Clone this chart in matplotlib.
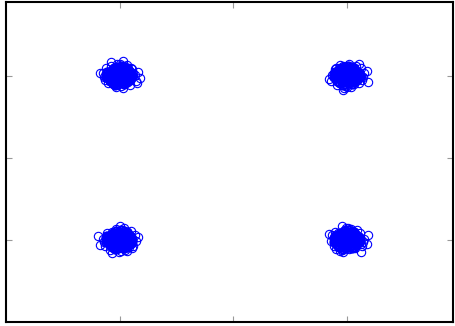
import matplotlib
matplotlib.use("Agg")
import matplotlib.pyplot as plt

# QPSK constellation: symbol centres and hand-read scatter offsets (hundredths)
centers_x = [-1, 1, -1, 1]
centers_y = [1, 1, -1, -1]

# dense core shared by every symbol cloud
off_core = [(-6,-9),(-2,-10),(2,-9),(6,-8),
            (-9,-6),(-5,-7),(-1,-6),(3,-6),(7,-5),
            (-10,-3),(-7,-3),(-3,-2),(1,-3),(5,-3),(9,-2),
            (-11,0),(-8,1),(-4,0),(0,0),(4,1),(8,0),(11,1),
            (-10,3),(-6,4),(-2,3),(2,4),(6,3),(10,4),
            (-8,6),(-4,7),(0,6),(4,7),(8,6),
            (-5,9),(-1,10),(3,9),(6,10),
            (-4,-11),(0,-8),(4,-10),
            (-7,-8),(-3,-5),(1,-5),(5,-6),(9,-5),
            (-12,-2),(-9,-1),(-5,-1),(-1,-2),(3,-1),(7,-2),(11,-1),
            (-12,2),(-9,2),(-6,1),(-2,1),(2,2),(6,1),(10,2),
            (-11,5),(-7,4),(-3,5),(1,5),(5,5),(9,5),
            (-6,8),(-2,8),(2,8),(6,8),
            (-3,11),(1,12),(4,11)]

off_tl = [(3,2),(-4,1),(6,-4),(-7,-2),(2,6),(-2,-8),(8,5),(-9,4),(5,-9),
          (-5,8),(1,-12),(-1,11),(10,-1),(-12,0),(4,12),(-3,-13),(7,9),(-6,-10),(0,14),
          (12,4),(-13,-5),(3,-15),(-8,12),(9,-11),(-2,15),(6,13),(-10,-9),(14,-6),(-15,3),
          (11,8),(-12,9),(13,1),(-14,-2),(10,10),(-5,-7),(16,5),(-8,17),(15,-9),(-17,4),(3,18),(18,-3)]
off_tr = [(-3,2),(4,-1),(-6,-4),(7,2),(-2,6),(2,-8),(-8,5),(9,4),(-5,-9),
          (5,8),(-1,-12),(1,11),(-10,-1),(12,0),(-4,12),(3,-13),(-7,9),(6,-10),(0,-14),
          (-12,4),(13,-5),(-3,-15),(8,12),(-9,-11),(2,15),(-6,13),(10,-9),(-14,-6),(15,3),
          (-11,8),(12,9),(-13,1),(14,-2),(-10,10),(5,-7),(17,6),(-16,-4),(10,15),(18,-7),(-4,-17)]
off_bl = [(2,-2),(-3,3),(5,1),(-6,-2),(3,-6),(-1,7),(7,-5),(-8,-4),(4,9),
          (-4,-8),(2,12),(-2,-11),(9,1),(-10,2),(5,-12),(-3,13),(8,-9),(-7,10),(1,-14),
          (11,-4),(-12,5),(4,15),(-9,-12),(10,11),(-1,-15),(6,-13),(-11,9),(13,6),(-14,-2),
          (12,-7),(-13,-7),(14,-1),(-15,1),(11,-10),(-6,6),(-19,5),(-17,-6),(16,4),(-7,-16),(0,17)]
off_br = [(-2,3),(3,-2),(-5,2),(6,-4),(-3,-6),(2,7),(-7,-5),(8,4),(-4,9),
          (4,-8),(-2,12),(2,-11),(-9,1),(10,-2),(-5,-12),(3,13),(-8,9),(7,-10),(-1,14),
          (-11,4),(12,-5),(-4,-15),(9,12),(-10,-11),(1,15),(-6,-13),(11,9),(-13,6),(14,-2),
          (-12,-7),(13,-7),(-14,-1),(15,1),(-11,10),(6,6),(17,-5),(-16,7),(12,-15),(-5,17),(18,6)]
offsets = [off_tl, off_tr, off_bl, off_br]

fig = plt.figure(figsize=(4.55, 3.26), dpi=100)
ax = fig.add_axes([6/455, 4/326, 447/455, 320/326])

for cx, cy, offs in zip(centers_x, centers_y, offsets):
    # sparse outer points: thin circles
    xs = [cx + dx / 100 for dx, dy in offs]
    ys = [cy + dy / 100 for dx, dy in offs]
    ax.plot(xs, ys, linestyle='none', marker='o', markersize=6,
            markerfacecolor='none', markeredgecolor='#0000ff', markeredgewidth=0.8)
    # dense core
    xs = [cx + dx / 100 for dx, dy in off_core]
    ys = [cy + dy / 100 for dx, dy in off_core]
    ax.plot(xs, ys, linestyle='none', marker='o', markersize=6,
            markerfacecolor='none', markeredgecolor='#0000ff', markeredgewidth=1.4)

ax.set_xlim(-2, 1.93)
ax.set_ylim(-2, 1.9)
ax.set_xticks([-1, 0, 1])
ax.set_yticks([-1, 0, 1])
ax.tick_params(direction='in', length=4, width=0.8, color='#999999',
               top=True, right=True, labelbottom=False, labelleft=False)
for s in ax.spines.values():
    s.set_linewidth(1.5)
    s.set_color('black')

fig.savefig("out.png", dpi=100)
